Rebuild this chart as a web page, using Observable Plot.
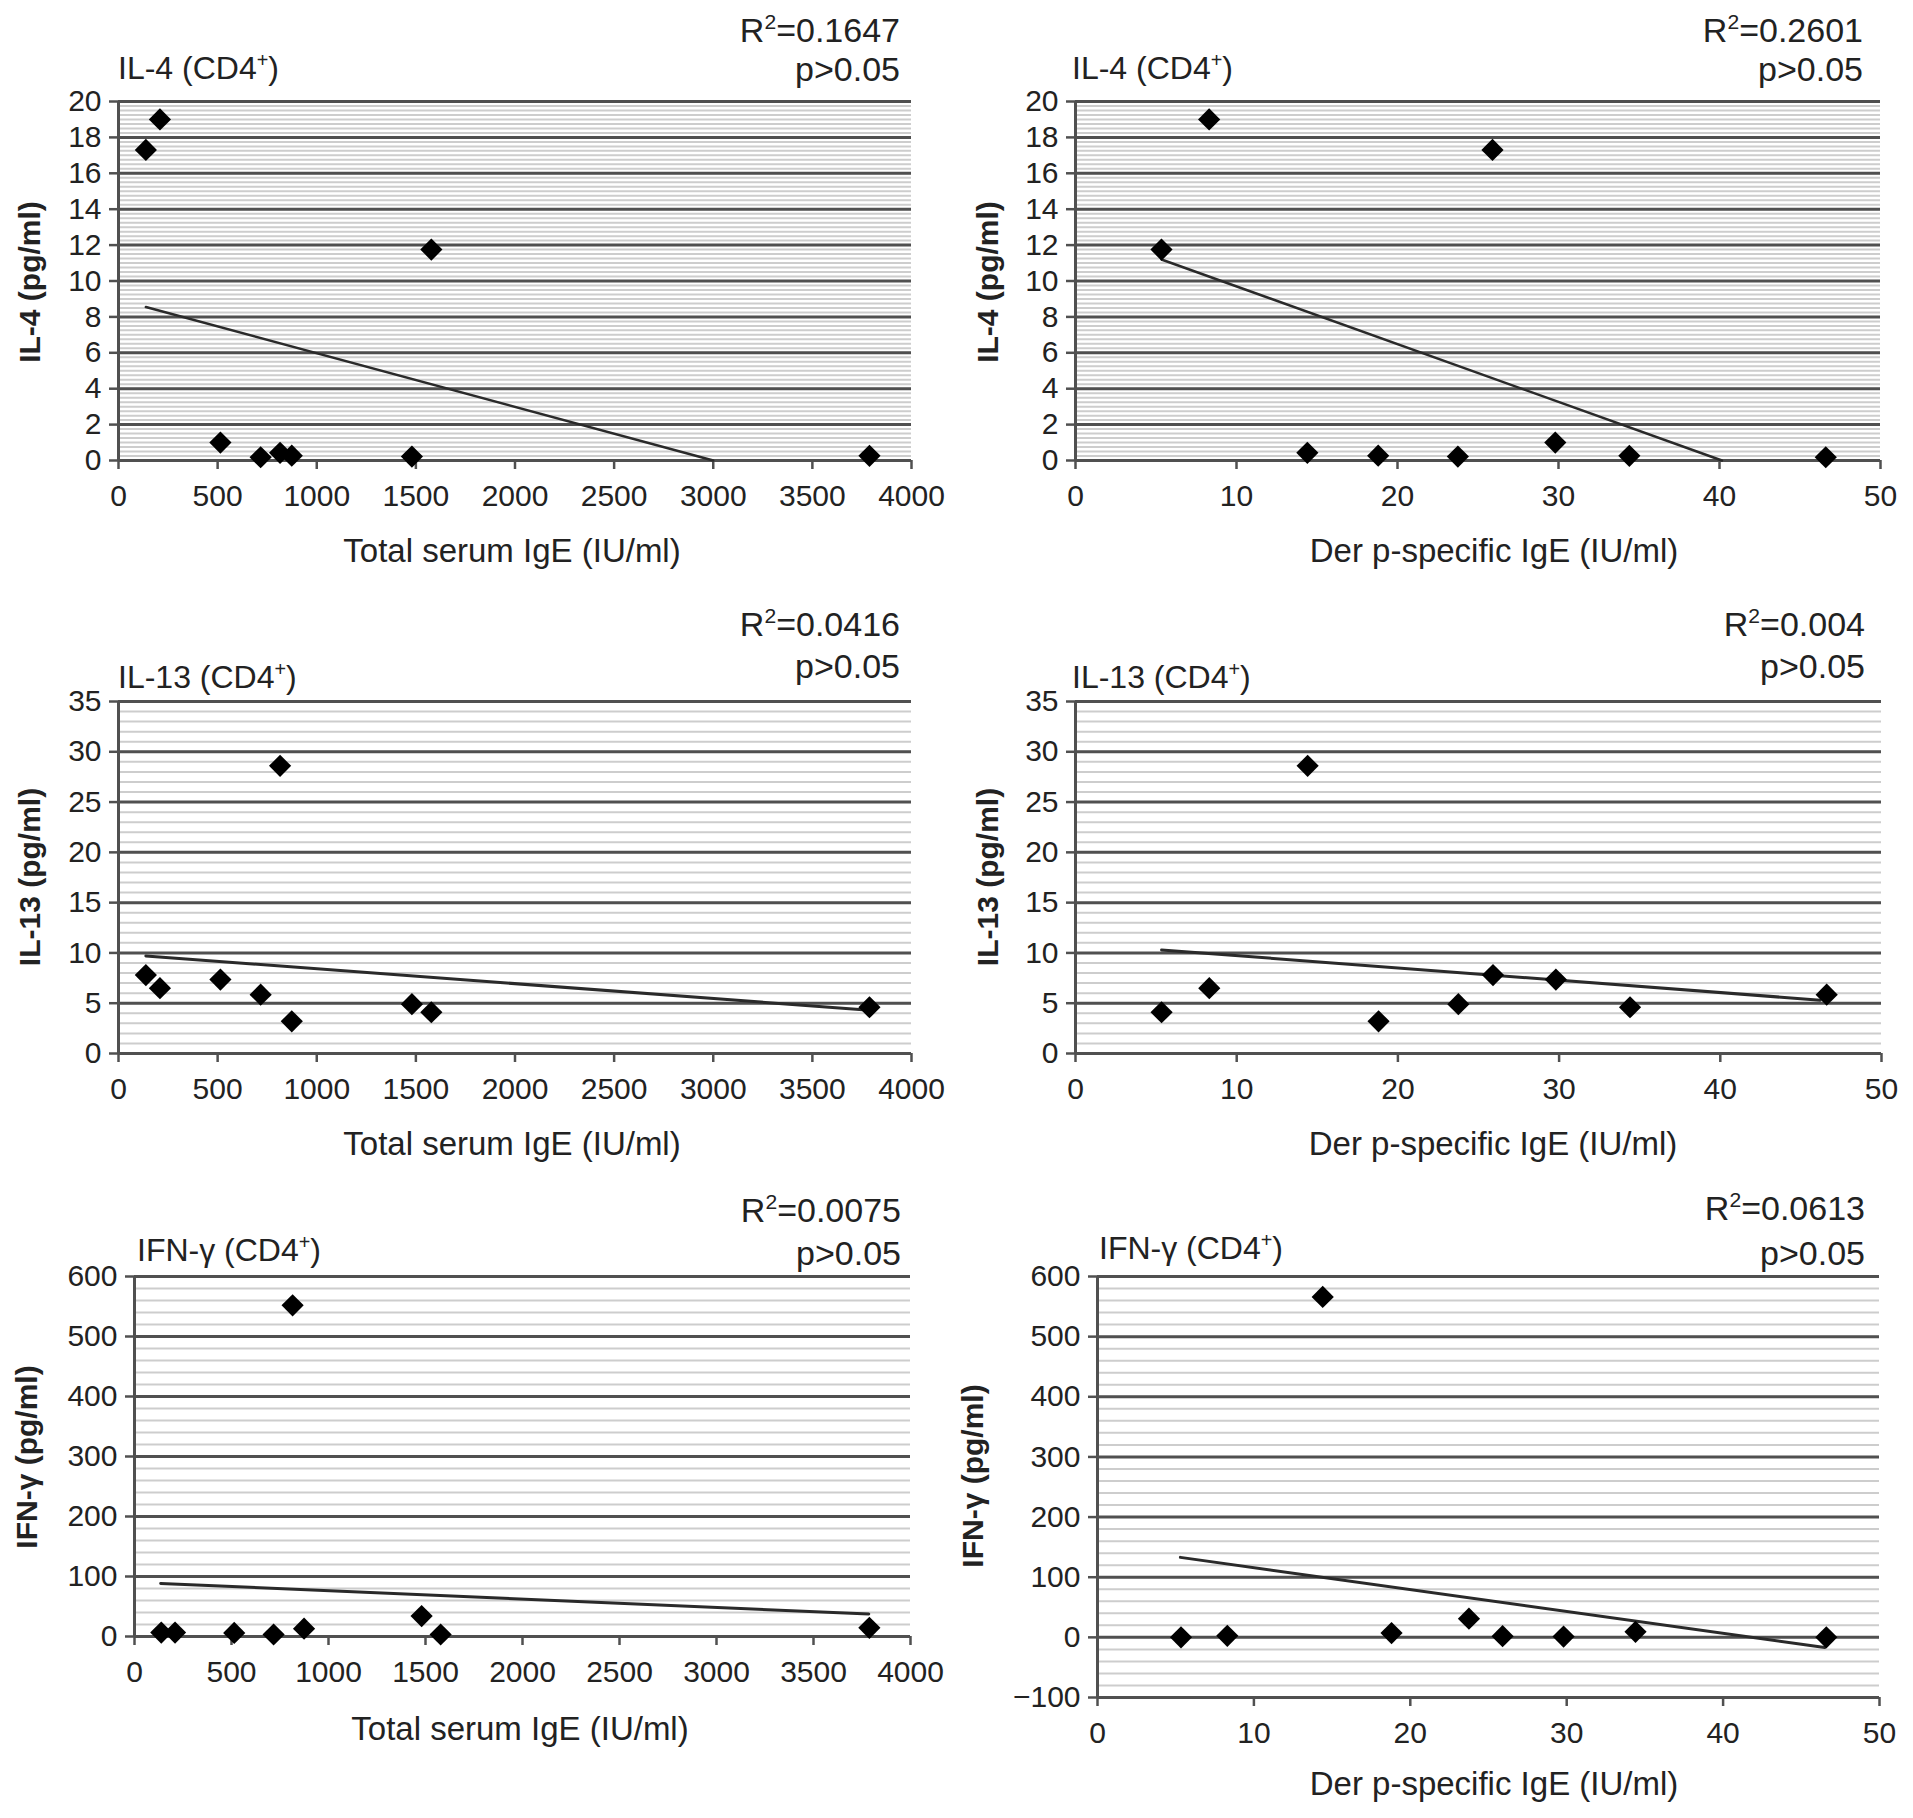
<!DOCTYPE html>
<html><head><meta charset="utf-8">
<script src="https://cdn.jsdelivr.net/npm/d3@7"></script>
<script src="https://cdn.jsdelivr.net/npm/@observablehq/plot@0.6"></script>
<style>
body{margin:0;background:#fff;}
#root{position:relative;width:1913px;height:1818px;background:#fff;font-family:"Liberation Sans",Arial,sans-serif;color:#222;overflow:hidden}
.abs{position:absolute;white-space:nowrap;line-height:1}
.sup{font-size:0.62em;position:relative;top:-0.62em;line-height:0}
.panel{position:absolute}
</style></head><body><div id="root"></div>
<script>
// ---------- data, 9 patients ----------
const totalIgE = [138, 209, 514, 717, 815, 874, 1480, 1578, 3788];
const derpIgE  = [25.9, 8.3, 29.8, 46.6, 14.4, 18.8, 23.75, 5.34, 34.4];
const il4      = [17.3, 19.0, 1.0, 0.18, 0.43, 0.27, 0.22, 11.75, 0.26];
const il13     = [7.8, 6.5, 7.35, 5.85, 28.6, 3.2, 4.9, 4.1, 4.6];
const ifngVsTotal = [6.6, 6.6, 6, 3.3, 552, 13, 34, 3.3, 14.4];
const ifngVsDerp  = [2, 2.6, 1.3, 0, 566, 7.2, 31, 0, 9.2];

// trend lines (end points as drawn)
const trendIl4TotalX = [138, 3000],  trendIl4TotalY = [8.55, 0];
const trendIl4DerpX  = [5.34, 40.15], trendIl4DerpY = [11.2, 0];
const trendIl13TotalX = [138, 3788], trendIl13TotalY = [9.7, 4.3];
const trendIl13DerpX  = [5.34, 46.2], trendIl13DerpY = [10.3, 5.3];
const trendIfnTotalX = [135, 3785],  trendIfnTotalY = [88.5, 37.4];
const trendIfnDerpX  = [5.3, 46.5],  trendIfnDerpY = [133, -17];

// ticks
const totalTicks = [0, 500, 1000, 1500, 2000, 2500, 3000, 3500, 4000];
const derpTicks  = [0, 10, 20, 30, 40, 50];
const il4Ticks   = [0, 2, 4, 6, 8, 10, 12, 14, 16, 18, 20];
const il13Ticks  = [0, 5, 10, 15, 20, 25, 30, 35];
const ifnTicks   = [0, 100, 200, 300, 400, 500, 600];
const ifnTicksNeg = [-100, 0, 100, 200, 300, 400, 500, 600];

// text
const xLabelTotal = "Total serum IgE (IU/ml)";
const xLabelDerp  = "Der p-specific IgE (IU/ml)";
const r2Values = ["0.1647", "0.2601", "0.0416", "0.004", "0.0075", "0.0613"];
const pText = "p>0.05";

const FONT = '"Liberation Sans", Arial, sans-serif';
const fmt = d => (d < 0 ? "\u2212" + Math.abs(d) : String(d));
const root = document.getElementById("root");

function addDiv(html, css) {
  const d = document.createElement("div");
  d.className = "abs";
  d.innerHTML = html;
  Object.assign(d.style, css);
  root.appendChild(d);
  return d;
}

function panel(c) {
  const pts = c.xs.map((x, i) => ({x, y: c.ys[i]}));
  const trend = c.tx.map((x, i) => ({x, y: c.ty[i]}));
  const minor = d3.range(c.yDomain[0], c.yDomain[1] + 1e-9, c.minor);
  const chart = Plot.plot({
    width: c.w, height: c.h,
    marginLeft: c.mL, marginRight: c.mR, marginTop: c.mT, marginBottom: c.mB,
    style: {fontFamily: FONT, fontSize: "30px", color: "#222", background: "transparent", overflow: "visible"},
    x: {domain: c.xDomain, label: null},
    y: {domain: c.yDomain, label: null},
    marks: [
      Plot.ruleY(minor, {stroke: "#cdcdcd", strokeWidth: 2}),
      Plot.ruleY(c.yTicks, {stroke: "#505050", strokeWidth: 3}),
      Plot.ruleX([c.xDomain[0]], {stroke: "#505050", strokeWidth: 3}),
      Plot.axisX(c.xTicks, {anchor: "bottom", tickSize: 9, tickPadding: 15, stroke: "#505050", strokeWidth: 2.5, label: null, tickFormat: fmt}),
      Plot.axisY(c.yTicks, {anchor: "left", tickSize: 9, tickPadding: 8, stroke: "#505050", strokeWidth: 2.5, label: null, tickFormat: fmt}),
      Plot.line(trend, {x: "x", y: "y", stroke: "#2a2a2a", strokeWidth: c.tw}),
      Plot.dot(pts, {x: "x", y: "y", symbol: "diamond2", r: 10, fill: "#000"})
    ]
  });
  const holder = document.createElement("div");
  holder.className = "panel";
  holder.style.left = c.left + "px";
  holder.style.top = c.top + "px";
  holder.appendChild(chart);
  root.appendChild(holder);

  const ts = 32;
  addDiv(c.title + ' (CD4<span class="sup">+</span>)', {left: c.titleX + "px", top: (c.titleBase - 0.8465 * ts) + "px", fontSize: ts + "px"});
  const rs = 34;
  addDiv('R<span class="sup">2</span>=' + c.r2, {right: (1913 - c.rX) + "px", top: (c.r2Base - 0.8465 * rs) + "px", fontSize: rs + "px", textAlign: "right"});
  addDiv(pText, {right: (1913 - c.rX) + "px", top: (c.pBase - 0.8465 * rs) + "px", fontSize: rs + "px", textAlign: "right"});
  addDiv(c.xLabel, {left: c.xlX + "px", top: c.xlY + "px", fontSize: "33px", transform: "translate(-50%,-50%)"});
  addDiv(c.yLabel, {left: c.ylX + "px", top: c.ylY + "px", fontSize: "30px", fontWeight: "bold", transform: "translate(-50%,-50%) rotate(-90deg)"});
}

panel({left: 0, top: 81, w: 956, h: 509, mL: 118, mR: 45, mT: 20, mB: 130,
  xDomain: [0, 4000], yDomain: [0, 20], xTicks: totalTicks, yTicks: il4Ticks, minor: 0.25, tw: 2.5,
  xs: totalIgE, ys: il4, tx: trendIl4TotalX, ty: trendIl4TotalY,
  title: "IL-4", titleX: 118, titleBase: 79, r2: r2Values[0], rX: 900, r2Base: 42, pBase: 81,
  xLabel: xLabelTotal, xlX: 512, xlY: 550, yLabel: "IL-4 (pg/ml)", ylX: 30, ylY: 282});

panel({left: 956, top: 81, w: 957, h: 509, mL: 119, mR: 33, mT: 20, mB: 130,
  xDomain: [0, 50], yDomain: [0, 20], xTicks: derpTicks, yTicks: il4Ticks, minor: 0.25, tw: 2.5,
  xs: derpIgE, ys: il4, tx: trendIl4DerpX, ty: trendIl4DerpY,
  title: "IL-4", titleX: 1072, titleBase: 79, r2: r2Values[1], rX: 1863, r2Base: 42, pBase: 81,
  xLabel: xLabelDerp, xlX: 1494, xlY: 550, yLabel: "IL-4 (pg/ml)", ylX: 988, ylY: 282});

panel({left: 0, top: 681, w: 956, h: 502, mL: 118, mR: 45, mT: 20, mB: 130,
  xDomain: [0, 4000], yDomain: [0, 35], xTicks: totalTicks, yTicks: il13Ticks, minor: 1, tw: 3,
  xs: totalIgE, ys: il13, tx: trendIl13TotalX, ty: trendIl13TotalY,
  title: "IL-13", titleX: 118, titleBase: 688, r2: r2Values[2], rX: 900, r2Base: 636, pBase: 678,
  xLabel: xLabelTotal, xlX: 512, xlY: 1143, yLabel: "IL-13 (pg/ml)", ylX: 30, ylY: 877});

panel({left: 956, top: 681, w: 957, h: 502, mL: 119, mR: 32, mT: 20, mB: 130,
  xDomain: [0, 50], yDomain: [0, 35], xTicks: derpTicks, yTicks: il13Ticks, minor: 1, tw: 3,
  xs: derpIgE, ys: il13, tx: trendIl13DerpX, ty: trendIl13DerpY,
  title: "IL-13", titleX: 1072, titleBase: 688, r2: r2Values[3], rX: 1865, r2Base: 636, pBase: 678,
  xLabel: xLabelDerp, xlX: 1493, xlY: 1143, yLabel: "IL-13 (pg/ml)", ylX: 988, ylY: 877});

panel({left: 0, top: 1256, w: 956, h: 510, mL: 134, mR: 46, mT: 20, mB: 130,
  xDomain: [0, 4000], yDomain: [0, 600], xTicks: totalTicks, yTicks: ifnTicks, minor: 20, tw: 3,
  xs: totalIgE, ys: ifngVsTotal, tx: trendIfnTotalX, ty: trendIfnTotalY,
  title: "IFN-γ", titleX: 137, titleBase: 1261, r2: r2Values[4], rX: 901, r2Base: 1222, pBase: 1265,
  xLabel: xLabelTotal, xlX: 520, xlY: 1728, yLabel: "IFN-γ (pg/ml)", ylX: 27, ylY: 1457});

panel({left: 956, top: 1256, w: 957, h: 541, mL: 141, mR: 34, mT: 20, mB: 100,
  xDomain: [0, 50], yDomain: [-100, 600], xTicks: derpTicks, yTicks: ifnTicksNeg, minor: 20, tw: 3,
  xs: derpIgE, ys: ifngVsDerp, tx: trendIfnDerpX, ty: trendIfnDerpY,
  title: "IFN-γ", titleX: 1099, titleBase: 1259, r2: r2Values[5], rX: 1865, r2Base: 1220, pBase: 1265,
  xLabel: xLabelDerp, xlX: 1494, xlY: 1783, yLabel: "IFN-γ (pg/ml)", ylX: 973, ylY: 1476});
</script></body></html>
